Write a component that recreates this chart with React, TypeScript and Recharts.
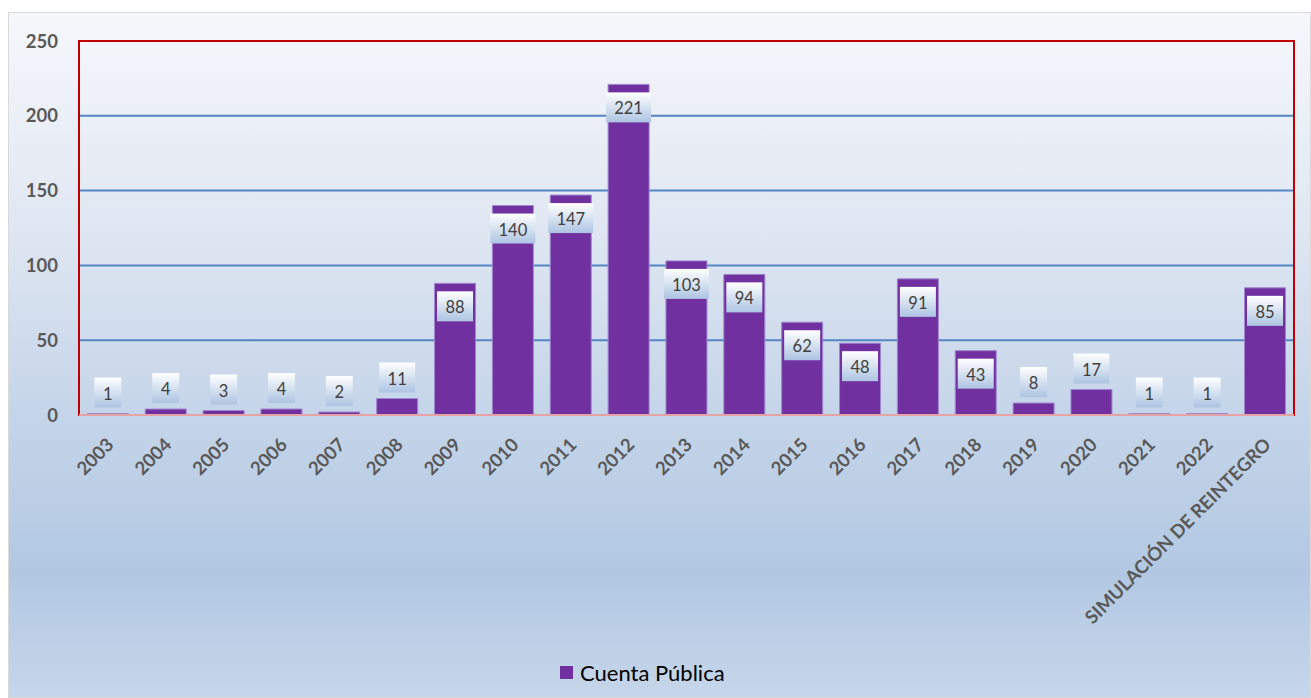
import React from "react";
import {
  BarChart,
  Bar,
  XAxis,
  YAxis,
  CartesianGrid,
  Legend,
  LabelList,
  ReferenceArea,
  ReferenceLine,
} from "recharts";

const years = [
  "2003", "2004", "2005", "2006", "2007", "2008", "2009", "2010", "2011",
  "2012", "2013", "2014", "2015", "2016", "2017", "2018", "2019", "2020",
  "2021", "2022", "SIMULACIÓN DE REINTEGRO",
];
const cuentaPublica = [
  1, 4, 3, 4, 2, 11, 88, 140, 147, 221, 103, 94, 62, 48, 91, 43, 8, 17, 1, 1, 85,
];
const yTicks = [0, 50, 100, 150, 200, 250];

const data = years.map((year, i) => ({ year, value: cuentaPublica[i] }));

const FONT = "Lato, 'Open Sans', sans-serif";
const PURPLE = "#7030a0";

const XTick = (props: any) => {
  const { x, y, payload } = props;
  return (
    <text
      transform={`translate(${x + 2},${y + 26}) rotate(-45)`}
      textAnchor="end"
      dominantBaseline="central"
      fontSize={18.5}
      fontWeight="bold"
      fill="#595959"
      fontFamily={FONT}
    >
      {payload.value}
    </text>
  );
};

// boxed data label, inside the top for tall bars, above for short ones
const ValueLabel = (props: any) => {
  const { x, y, width, value } = props;
  const digits = String(value).length;
  const w = 18 + 9 * digits;
  const h = 30;
  const cx = x + width / 2;
  const top = value < 30 ? y - 36 : y + 8;
  return (
    <g>
      <rect x={cx - w / 2} y={top} width={w} height={h} fill="url(#labelGrad)" />
      <text
        x={cx}
        y={top + h / 2 + 1}
        textAnchor="middle"
        dominantBaseline="central"
        fontSize={16.5}
        fill="#404040"
        fontFamily={FONT}
      >
        {value}
      </text>
    </g>
  );
};

const LegendContent = () => (
  <div
    style={{
      height: 24,
      display: "flex",
      alignItems: "center",
      paddingLeft: 551,
      fontFamily: FONT,
    }}
  >
    <span
      style={{ width: 13, height: 13, background: PURPLE, marginRight: 7 }}
    />
    <span style={{ fontSize: 22, color: "#000" }}>Cuenta Pública</span>
  </div>
);

export default function App() {
  return (
    <>
      <style>{"body{margin:0;overflow:hidden}"}</style>
      <div
        style={{
          position: "absolute",
          left: 8,
          top: 12,
          width: 1303,
          height: 686,
          boxSizing: "border-box",
          border: "1px solid #d9d9d9",
          background:
            "linear-gradient(to bottom, #f5f7fb 0%, #e3e9f3 28%, #c8d7ea 55%, #b2c8e2 82%, #c6d6ea 100%)",
        }}
      >
        <BarChart
          width={1301}
          height={684}
          data={data}
          margin={{ top: 28, right: 16, left: 0, bottom: 13 }}
          barCategoryGap="14.5%"
        >
          <defs>
            <linearGradient id="labelGrad" x1="0" y1="0" x2="0" y2="1">
              <stop offset="0%" stopColor="#ffffff" />
              <stop offset="100%" stopColor="#adc4e2" />
            </linearGradient>
          </defs>
          <CartesianGrid
            vertical={false}
            stroke="#5585c5"
            strokeWidth={2}
          />
          <XAxis
            dataKey="year"
            interval={0}
            height={245}
            tickLine={false}
            axisLine={false}
            tickSize={0}
            tickMargin={0}
            tick={<XTick />}
          />
          <YAxis
            domain={[0, 250]}
            ticks={yTicks}
            width={70}
            tickLine={false}
            axisLine={false}
            tickSize={0}
            tickMargin={21}
            tick={{
              fontSize: 18.5,
              fontWeight: "bold",
              fill: "#595959",
              fontFamily: FONT,
            }}
          />
          <Legend verticalAlign="bottom" content={<LegendContent />} />
          <Bar
            dataKey="value"
            name="Cuenta Pública"
            fill={PURPLE}
            stroke="#9f86cf"
            strokeWidth={1}
            isAnimationActive={false}
          >
            <LabelList dataKey="value" content={<ValueLabel />} />
          </Bar>
          <ReferenceArea
            y1={0}
            y2={250}
            fill="none"
            stroke="#c00000"
            strokeWidth={2}
            fillOpacity={0}
            ifOverflow="visible"
          />
          <ReferenceLine y={0} stroke="#e6a3a3" strokeWidth={2} />
        </BarChart>
      </div>
    </>
  );
}
